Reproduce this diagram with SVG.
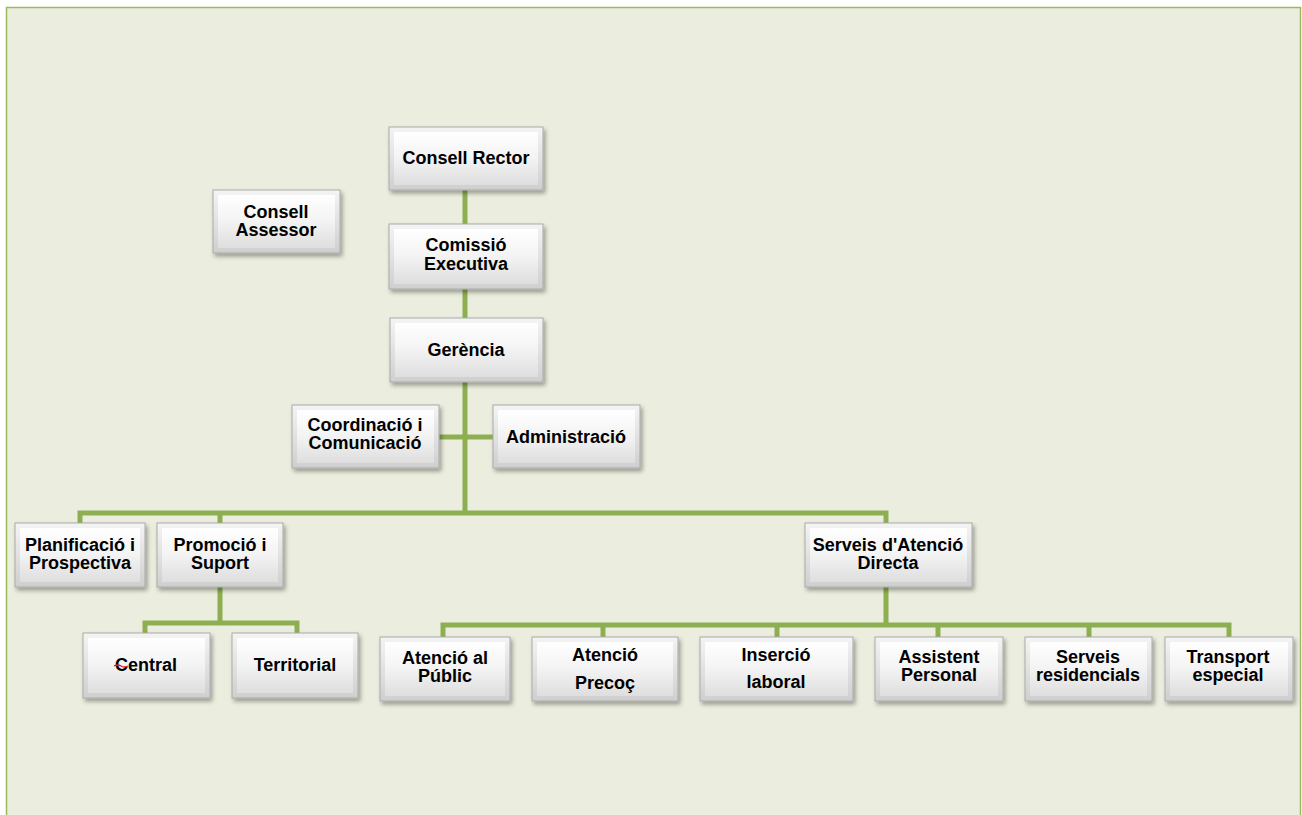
<svg xmlns="http://www.w3.org/2000/svg" width="1302" height="815" viewBox="0 0 1302 815">
<defs>
<linearGradient id="gOuter" x1="0" y1="0" x2="0" y2="1">
<stop offset="0" stop-color="#f4f4f4"/><stop offset="1" stop-color="#cfcfcf"/>
</linearGradient>
<linearGradient id="gInner" x1="0" y1="0" x2="0" y2="1">
<stop offset="0" stop-color="#ffffff"/><stop offset="0.5" stop-color="#f3f3f3"/><stop offset="1" stop-color="#dedede"/>
</linearGradient>
<filter id="sh" x="-10%" y="-10%" width="125%" height="135%">
<feDropShadow dx="2" dy="3" stdDeviation="2" flood-color="#000" flood-opacity="0.35"/>
</filter>
</defs>
<style>
.box{fill:url(#gOuter);stroke:#a9a9a9;stroke-width:1;filter:url(#sh)}
.in{fill:url(#gInner);stroke:none}
.t{font-family:"Liberation Sans",Arial,sans-serif;font-weight:bold;font-size:18px;fill:#000;text-anchor:middle}
.c{fill:none;stroke:#8DAF51;stroke-width:5}
</style>
<rect x="0" y="0" width="1302" height="815" fill="#ffffff"/>
<rect x="6.5" y="7.5" width="1294" height="830" fill="#EBEEDE" stroke="#9BBB59" stroke-width="1.5"/>
<g id="connectors">
<path class="c" d="M465,189 V513"/>
<path class="c" d="M439,437 H493"/>
<path class="c" d="M80,523 V513 H886 V523"/>
<path class="c" d="M220,513 V523"/>
<path class="c" d="M220,587 V623"/>
<path class="c" d="M145,633 V623 H297 V633"/>
<path class="c" d="M886,587 V625"/>
<path class="c" d="M443,637 V625 H1229 V637"/>
<path class="c" d="M603,625 V637 M777,625 V637 M938,625 V637 M1089,625 V637"/>
</g>
<g id="consell-rector"><rect class="box" x="389" y="127" width="154" height="63"/><rect class="in" x="394" y="132" width="144" height="53"/><text class="t" x="466" y="164">Consell Rector</text></g>
<g id="comissio-executiva"><rect class="box" x="389" y="224" width="154" height="65"/><rect class="in" x="394" y="229" width="144" height="55"/><text class="t" x="466" y="251">Comissió</text><text class="t" x="466" y="270">Executiva</text></g>
<g id="gerencia"><rect class="box" x="390" y="318" width="153" height="64"/><rect class="in" x="395" y="323" width="143" height="54"/><text class="t" x="466" y="356">Gerència</text></g>
<g id="consell-assessor"><rect class="box" x="213" y="190" width="127" height="63"/><rect class="in" x="218" y="195" width="117" height="53"/><text class="t" x="276" y="218">Consell</text><text class="t" x="276" y="236">Assessor</text></g>
<g id="coordinacio"><rect class="box" x="292" y="405" width="147" height="63"/><rect class="in" x="297" y="410" width="137" height="53"/><text class="t" x="365" y="431">Coordinació i</text><text class="t" x="365" y="449">Comunicació</text></g>
<g id="administracio"><rect class="box" x="493" y="405" width="147" height="63"/><rect class="in" x="498" y="410" width="137" height="53"/><text class="t" x="566" y="443">Administració</text></g>
<g id="planificacio"><rect class="box" x="15" y="523" width="130" height="64"/><rect class="in" x="20" y="528" width="120" height="54"/><text class="t" x="80" y="551">Planificació i</text><text class="t" x="80" y="569">Prospectiva</text></g>
<g id="promocio"><rect class="box" x="157" y="523" width="126" height="64"/><rect class="in" x="162" y="528" width="116" height="54"/><text class="t" x="220" y="551">Promoció i</text><text class="t" x="220" y="569">Suport</text></g>
<g id="serveis-atencio-directa"><rect class="box" x="805" y="523" width="167" height="64"/><rect class="in" x="810" y="528" width="157" height="54"/><text class="t" x="888" y="551">Serveis d'Atenció</text><text class="t" x="888" y="569">Directa</text></g>
<g id="central"><rect class="box" x="83" y="633" width="127" height="65"/><rect class="in" x="88" y="638" width="117" height="55"/><text class="t" x="146" y="671">Central</text><path d="M114,666 q4,-2 7,0 t7,0" fill="none" stroke="#e02020" stroke-width="1.3"/></g>
<g id="territorial"><rect class="box" x="232" y="633" width="126" height="65"/><rect class="in" x="237" y="638" width="116" height="55"/><text class="t" x="295" y="671">Territorial</text></g>
<g id="atencio-public"><rect class="box" x="380" y="637" width="130" height="64"/><rect class="in" x="385" y="642" width="120" height="54"/><text class="t" x="445" y="664">Atenció al</text><text class="t" x="445" y="682">Públic</text></g>
<g id="atencio-precoc"><rect class="box" x="532" y="637" width="146" height="64"/><rect class="in" x="537" y="642" width="136" height="54"/><text class="t" x="605" y="661">Atenció</text><text class="t" x="605" y="689">Precoç</text></g>
<g id="insercio-laboral"><rect class="box" x="700" y="637" width="153" height="64"/><rect class="in" x="705" y="642" width="143" height="54"/><text class="t" x="776" y="661">Inserció</text><text class="t" x="776" y="688">laboral</text></g>
<g id="assistent-personal"><rect class="box" x="875" y="637" width="128" height="64"/><rect class="in" x="880" y="642" width="118" height="54"/><text class="t" x="939" y="663">Assistent</text><text class="t" x="939" y="681">Personal</text></g>
<g id="serveis-residencials"><rect class="box" x="1025" y="637" width="127" height="64"/><rect class="in" x="1030" y="642" width="117" height="54"/><text class="t" x="1088" y="663">Serveis</text><text class="t" x="1088" y="681">residencials</text></g>
<g id="transport-especial"><rect class="box" x="1165" y="637" width="128" height="64"/><rect class="in" x="1170" y="642" width="118" height="54"/><text class="t" x="1228" y="663">Transport</text><text class="t" x="1228" y="681">especial</text></g>
</svg>
